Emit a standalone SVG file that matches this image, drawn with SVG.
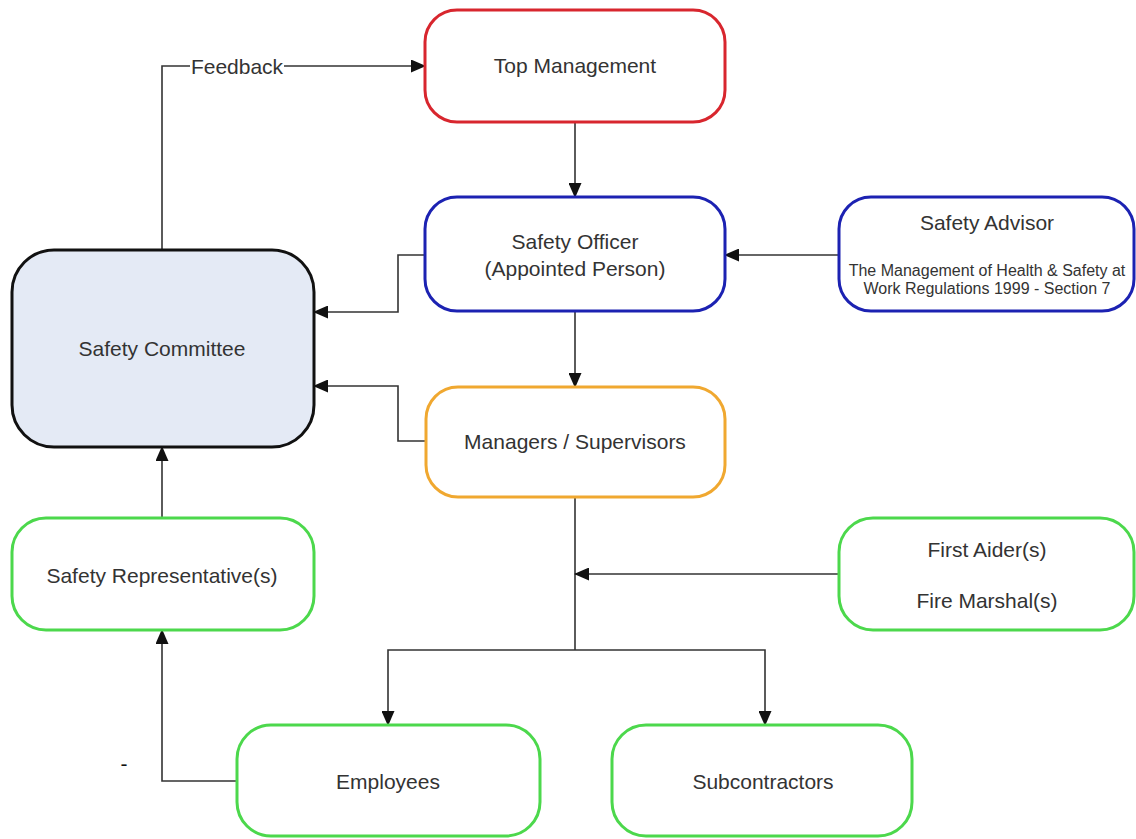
<svg xmlns="http://www.w3.org/2000/svg" width="1136" height="839" viewBox="0 0 1136 839">
<style>
.box{fill:#fff;stroke-width:3}
.t{font-family:"Liberation Sans",Arial,sans-serif;font-size:21px;fill:#333;text-anchor:middle;dominant-baseline:central}
.s{font-size:16px}
.c{fill:none;stroke:#333;stroke-width:1.6}
</style>
<defs>
<marker id="a" markerWidth="15" markerHeight="13" refX="14" refY="6.5" orient="auto" markerUnits="userSpaceOnUse">
<path d="M0,0 L15,6.5 L0,13 Z" fill="#111"/>
</marker>
</defs>
<rect width="1136" height="839" fill="#fff"/>
<g id="connectors">
<path class="c" d="M162,250 V66 H190"/>
<path class="c" d="M284,66 H425" marker-end="url(#a)"/>
<text class="t" x="237" y="66">Feedback</text>
<path class="c" d="M575,122 V197" marker-end="url(#a)"/>
<path class="c" d="M838,255 H725" marker-end="url(#a)"/>
<path class="c" d="M425,255 H398 V312 H314" marker-end="url(#a)"/>
<path class="c" d="M575,311 V387" marker-end="url(#a)"/>
<path class="c" d="M425,441 H398 V386 H314" marker-end="url(#a)"/>
<path class="c" d="M575,497 V650"/>
<path class="c" d="M575,650 H388 V725" marker-end="url(#a)"/>
<path class="c" d="M575,650 H765 V725" marker-end="url(#a)"/>
<path class="c" d="M838,574 H575" marker-end="url(#a)"/>
<path class="c" d="M162,518 V447" marker-end="url(#a)"/>
<path class="c" d="M237,781 H162 V630" marker-end="url(#a)"/>
</g>
<g id="top-management">
<rect class="box" x="425" y="10" width="300" height="112" rx="32" stroke="#d8262e"/>
<text class="t" x="575" y="65">Top Management</text>
</g>
<g id="safety-officer">
<rect class="box" x="425" y="197" width="300" height="114" rx="32" stroke="#1c22b2"/>
<text class="t" x="575" y="241">Safety Officer</text>
<text class="t" x="575" y="268">(Appointed Person)</text>
</g>
<g id="safety-advisor">
<rect class="box" x="839" y="197" width="295" height="114" rx="32" stroke="#1c22b2"/>
<text class="t" x="987" y="222">Safety Advisor</text>
<text class="t s" x="987" y="270">The Management of Health &amp; Safety at</text>
<text class="t s" x="987" y="288">Work Regulations 1999 - Section 7</text>
</g>
<g id="safety-committee">
<rect class="box" x="12" y="250" width="302" height="197" rx="42" stroke="#111" style="fill:#e4eaf5"/>
<text class="t" x="162" y="348">Safety Committee</text>
</g>
<g id="managers-supervisors">
<rect class="box" x="426" y="387" width="299" height="110" rx="32" stroke="#f0a830"/>
<text class="t" x="575" y="441">Managers / Supervisors</text>
</g>
<g id="safety-representatives">
<rect class="box" x="12" y="518" width="302" height="112" rx="34" stroke="#4cd84c"/>
<text class="t" x="162" y="575">Safety Representative(s)</text>
</g>
<g id="first-aiders">
<rect class="box" x="839" y="518" width="295" height="112" rx="34" stroke="#4cd84c"/>
<text class="t" x="987" y="549">First Aider(s)</text>
<text class="t" x="987" y="600">Fire Marshal(s)</text>
</g>
<g id="employees">
<rect class="box" x="237" y="725" width="303" height="111" rx="34" stroke="#4cd84c"/>
<text class="t" x="388" y="781">Employees</text>
</g>
<g id="subcontractors">
<rect class="box" x="612" y="725" width="300" height="111" rx="34" stroke="#4cd84c"/>
<text class="t" x="763" y="781">Subcontractors</text>
</g>
<text class="t" x="124" y="763" style="fill:#111">-</text>
</svg>
